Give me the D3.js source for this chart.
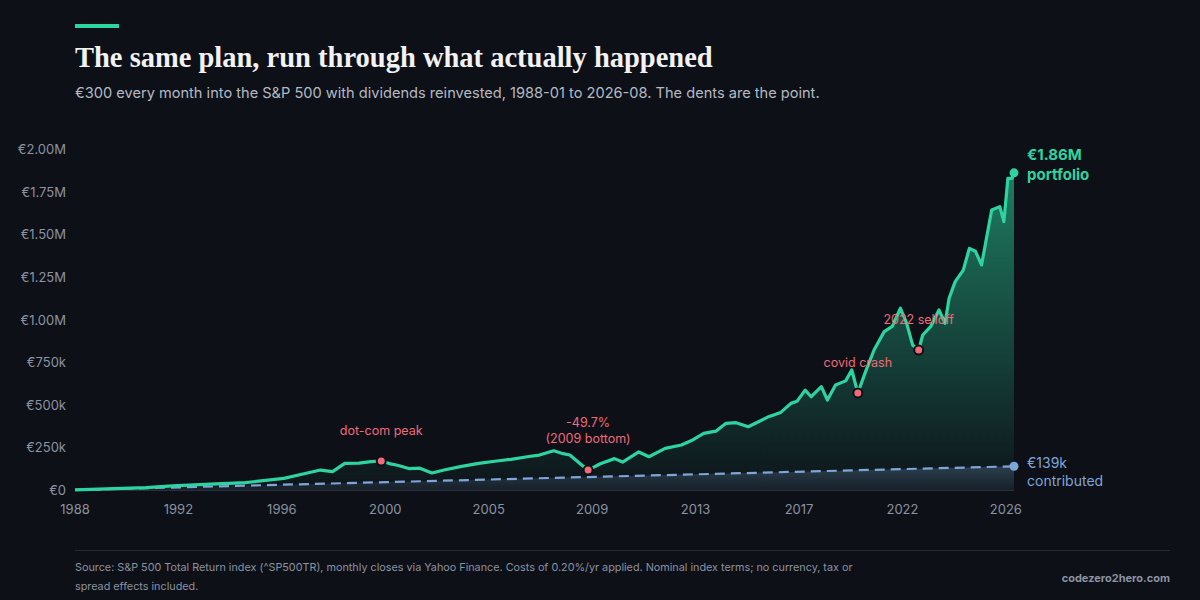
<!DOCTYPE html>
<html><head><meta charset="utf-8">
<script src="https://cdn.jsdelivr.net/npm/d3@7"></script>
<style>
body{margin:0;background:#0d1017;}
svg{display:block;font-family:Inter,"Liberation Sans",Arial,sans-serif;}
</style></head>
<body><svg width="1200" height="600"></svg>
<script>
// months since 1988-01, portfolio value in €k
const months = [0,35,48,67,84,103,114,121,127,133,140,146,151,155,159,165,170,176,182,190,199,208,215,223,229,236,240,244,250,253,259,266,270,278,283,291,299,304,310,316,321,326,332,337,342,348,353,356,360,363,368,371,375,380,383,386,390,394,399,403,407,410,413,416,418,422,426,429,431,434,438,441,444,447,452,456,458,460,462,463];
const portfolio = [0.3,14,24,35,43,68,98,117,108,156,158,166,170,155,145,125,128,100,117,137,156,170,180,195,205,230,215,205,145,117,154,184,164,223,195,244,264,290,332,345,391,395,371,400,430,455,508,520,586,547,606,528,616,640,704,569,700,821,929,960,1066,980,851,821,909,960,1056,978,1124,1222,1290,1417,1400,1320,1642,1662,1574,1828,1828,1860];
const contribMonths = [0,463];
const contributed = [0.3,139];
const tickMonths = [0,51,102,153,204,255,306,357,408,459];
const tickLabels = ["1988","1992","1996","2000","2005","2009","2013","2017","2022","2026"];
const yTicks = [0,250,500,750,1000,1250,1500,1750,2000];
const events = [
  {m:151, v:170, label:["dot-com peak"]},
  {m:253, v:117, label:["-49.7%","(2009 bottom)"]},
  {m:386, v:569, label:["covid crash"]},
  {m:416, v:821, label:["2022 selloff"]}
];

const teal = "#2dd4a0", blue = "#7fa6d8", red = "#f06a78", grey = "#8b93a1";
const svg = d3.select("svg");
const x = d3.scaleLinear().domain([0,463]).range([75,1014]);
const y = d3.scaleLinear().domain([0,2000]).range([490,149]);
const pts = months.map((m,i) => ({m, v: portfolio[i]}));
const cpts = contribMonths.map((m,i) => ({m, v: contributed[i]}));

const defs = svg.append("defs");
const g1 = defs.append("linearGradient").attr("id","pf").attr("x1",0).attr("y1",0).attr("x2",0).attr("y2",1);
g1.append("stop").attr("offset","0%").attr("stop-color",teal).attr("stop-opacity",0.55);
g1.append("stop").attr("offset","100%").attr("stop-color",teal).attr("stop-opacity",0.02);
const g2 = defs.append("linearGradient").attr("id","cf").attr("x1",0).attr("y1",0).attr("x2",0).attr("y2",1);
g2.append("stop").attr("offset","0%").attr("stop-color",blue).attr("stop-opacity",0.25);
g2.append("stop").attr("offset","100%").attr("stop-color",blue).attr("stop-opacity",0.08);

// header
svg.append("rect").attr("x",75).attr("y",24).attr("width",44).attr("height",4).attr("fill",teal);
svg.append("text").attr("x",75).attr("y",67).attr("fill","#f2f2f2")
  .style("font-family","'Liberation Serif',serif").style("font-weight","bold").style("font-size","28.5px")
  .text("The same plan, run through what actually happened");
svg.append("text").attr("x",75).attr("y",98).attr("fill","#b4bac4").style("font-size","14.6px")
  .text("€300 every month into the S&P 500 with dividends reinvested, 1988-01 to 2026-08. The dents are the point.");

// y axis labels
svg.selectAll(".yl").data(yTicks).enter().append("text")
  .attr("x",66).attr("y",d => y(d)+5).attr("text-anchor","end").attr("fill",grey).style("font-size","13px")
  .text(d => d === 0 ? "€0" : d < 1000 ? "€" + d + "k" : "€" + (d/1000).toFixed(2) + "M");
svg.append("line").attr("x1",75).attr("x2",1014).attr("y1",y(0)+0.5).attr("y2",y(0)+0.5).attr("stroke","#2a2f3a");
svg.selectAll(".xl").data(tickMonths).enter().append("text")
  .attr("x",d => x(d)).attr("y",514).attr("text-anchor","middle").attr("fill",grey).style("font-size","13px")
  .text((d,i) => tickLabels[i]);

// areas
svg.append("path").datum(pts).attr("fill","url(#pf)")
  .attr("d", d3.area().x(d => x(d.m)).y0(y(0)).y1(d => y(d.v)));
svg.append("path").datum(cpts).attr("fill","url(#cf)")
  .attr("d", d3.area().x(d => x(d.m)).y0(y(0)).y1(d => y(d.v)));

// lines
svg.append("path").datum(cpts).attr("fill","none").attr("stroke",blue).attr("stroke-width",2.2)
  .attr("stroke-dasharray","10,6").attr("d", d3.line().x(d => x(d.m)).y(d => y(d.v)));
svg.append("path").datum(pts).attr("fill","none").attr("stroke",teal).attr("stroke-width",3.2)
  .attr("stroke-linejoin","round").attr("d", d3.line().x(d => x(d.m)).y(d => y(d.v)));

// events
events.forEach(e => {
  svg.append("circle").attr("cx",x(e.m)).attr("cy",y(e.v)).attr("r",4.5)
    .attr("fill",red).attr("stroke","#0d1017").attr("stroke-width",2);
  const t = svg.append("text").attr("x",x(e.m)).attr("text-anchor","middle").attr("fill",red).style("font-size","12.5px");
  const top = e.label.length > 1 ? y(e.v) - 43 : y(e.v) - 26;
  e.label.forEach((l,i) => t.append("tspan").attr("x",x(e.m)).attr("y",top + i*16).text(l));
});

// end labels
const last = pts[pts.length-1], lastC = cpts[cpts.length-1];
svg.append("circle").attr("cx",x(last.m)).attr("cy",y(last.v)).attr("r",4.5).attr("fill",teal);
svg.append("circle").attr("cx",x(lastC.m)).attr("cy",y(lastC.v)).attr("r",4.5).attr("fill",blue);
const tl = svg.append("text").attr("fill",teal).style("font-size","15px").style("font-weight","bold");
tl.append("tspan").attr("x",1027).attr("y",160).text("€1.86M");
tl.append("tspan").attr("x",1027).attr("y",180).text("portfolio");
const cl = svg.append("text").attr("fill",blue).style("font-size","14px");
cl.append("tspan").attr("x",1027).attr("y",468).text("€139k");
cl.append("tspan").attr("x",1027).attr("y",486).text("contributed");

// footer
svg.append("line").attr("x1",75).attr("x2",1170).attr("y1",550.5).attr("y2",550.5).attr("stroke","#262b35");
const ft = svg.append("text").attr("fill",grey).style("font-size","10.8px");
ft.append("tspan").attr("x",75).attr("y",571).text("Source: S&P 500 Total Return index (^SP500TR), monthly closes via Yahoo Finance. Costs of 0.20%/yr applied. Nominal index terms; no currency, tax or");
ft.append("tspan").attr("x",75).attr("y",590).text("spread effects included.");
svg.append("text").attr("x",1170).attr("y",582).attr("text-anchor","end").attr("fill",grey)
  .style("font-size","11px").style("font-weight","bold").text("codezero2hero.com");
</script></body></html>
